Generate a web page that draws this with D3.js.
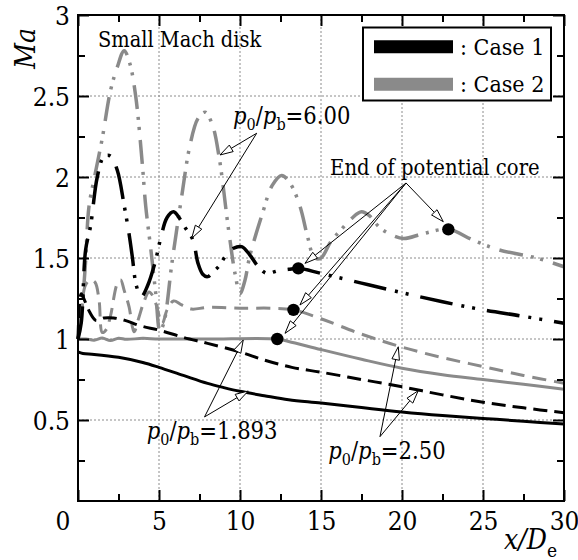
<!DOCTYPE html>
<html>
<head>
<meta charset="utf-8">
<script src="https://cdn.jsdelivr.net/npm/d3@7"></script>
<style>
  body { margin: 0; background: #fff; }
  svg text { font-stretch: condensed; }
</style>
</head>
<body>
<div id="chart"></div>
<script>
/* Mach number along jet axis, Case 1 (black) vs Case 2 (gray) */

var xTicks = [0, 5, 10, 15, 20, 25, 30];
var xMinor = [2.5, 7.5, 12.5, 17.5, 22.5, 27.5];
var yTicks = [0.5, 1, 1.5, 2, 2.5, 3];
var yMinor = [0.25, 0.75, 1.25, 1.75, 2.25, 2.75];

// p0/pb = 1.893
var case1_1893 = [[0,0.92],[0.3,0.91],[1,0.905],[2.5,0.887],[4,0.855],[5,0.825],[6.5,0.775],[8,0.726],[9,0.70],[10,0.677],[11.5,0.65],[13,0.625],[15,0.605],[17.5,0.577],[20,0.55],[22.5,0.528],[25,0.51],[27.5,0.492],[30,0.475]];
var case2_1893 = [[0,1.0],[0.5,1.0],[1,0.993],[1.5,1.006],[2,0.99],[2.5,1.005],[3,0.998],[4,1.004],[5,1.0],[8,1.0],[12.3,1.0],[13,0.985],[15,0.935],[17.5,0.875],[20,0.82],[22.5,0.78],[25,0.75],[27.5,0.72],[30,0.69]];

// p0/pb = 2.50
var case1_250 = [[0,1.0],[0.2,1.28],[0.4,1.24],[0.7,1.17],[1.1,1.115],[1.6,1.13],[2.2,1.13],[2.9,1.115],[3.9,1.08],[5,1.055],[6.5,1.01],[8,0.973],[10,0.92],[11.5,0.87],[13.2,0.825],[15,0.795],[17.5,0.75],[20,0.705],[22.5,0.655],[25,0.61],[27.5,0.575],[30,0.545]];
var case2_250 = [[0,1.0],[0.2,1.15],[0.45,1.33],[0.75,1.365],[1.05,1.35],[1.3,1.24],[1.5,1.04],[1.75,1.06],[2.0,1.14],[2.43,1.344],[2.63,1.365],[2.85,1.3],[3.15,1.2],[3.46,1.045],[3.75,1.13],[4.07,1.23],[4.38,1.29],[4.6,1.27],[4.8,1.22],[5.2,1.097],[5.5,1.18],[5.9,1.235],[6.4,1.21],[7,1.185],[8,1.195],[10,1.19],[12,1.19],[13.3,1.18],[15,1.125],[17.5,1.03],[20,0.95],[22.5,0.885],[25,0.83],[27.5,0.775],[30,0.727]];

// p0/pb = 6.00
var case1_600 = [[0,1.0],[0.2,1.1],[0.47,1.55],[0.78,1.70],[1.19,2.0],[1.6,2.125],[2.0,2.13],[2.43,2.04],[2.84,1.83],[3.15,1.65],[3.35,1.51],[3.6,1.33],[3.9,1.26],[4.3,1.33],[4.75,1.47],[5.1,1.62],[5.5,1.75],[5.9,1.785],[6.3,1.74],[6.6,1.69],[7.1,1.61],[7.4,1.47],[7.7,1.40],[8.0,1.385],[8.4,1.42],[8.7,1.45],[9.1,1.51],[9.6,1.56],[10.1,1.57],[10.6,1.52],[11.1,1.45],[11.65,1.405],[12.3,1.42],[13.0,1.43],[13.6,1.436],[15,1.405],[17.5,1.345],[20,1.286],[22.5,1.23],[25,1.18],[27.5,1.14],[30,1.097]];
var case2_600 = [[0,1.0],[0.25,1.2],[0.45,1.45],[0.68,1.82],[1.0,1.99],[1.5,2.24],[2.0,2.53],[2.43,2.68],[2.85,2.78],[3.2,2.70],[3.56,2.50],[3.97,2.08],[4.18,1.82],[4.5,1.55],[4.8,1.28],[5.06,1.05],[5.3,1.1],[5.8,1.47],[6.4,1.88],[6.9,2.19],[7.4,2.36],[7.85,2.40],[8.3,2.32],[8.7,2.13],[9.3,1.67],[9.7,1.40],[10.0,1.28],[10.3,1.36],[10.6,1.51],[11.4,1.78],[12.0,1.95],[12.57,2.01],[13.1,1.96],[13.7,1.82],[14.2,1.62],[14.6,1.50],[15.0,1.50],[15.6,1.60],[16.2,1.67],[16.9,1.745],[17.5,1.785],[18.0,1.76],[18.6,1.69],[19.3,1.645],[20.1,1.62],[21.3,1.65],[22.86,1.677],[24.4,1.61],[26,1.55],[28.3,1.50],[30,1.446]];

// end of potential core
var coreEnds = [[12.3,1.0],[13.3,1.18],[13.6,1.436],[22.86,1.677]];

// annotation arrows: [from, to] in data units
var arrows600 = [[[11.03,2.27],[8.77,2.136]], [[11.03,2.27],[7.02,1.622]]];
var arrowsCore = [[[20.25,1.963],[22.55,1.724]], [[20.25,1.963],[14.01,1.467]], [[20.25,1.963],[13.70,1.21]], [[20.25,1.963],[12.78,1.035]]];
var arrows1893 = [[[7.81,0.519],[10.2,0.994]], [[7.81,0.519],[10.51,0.679]]];
var arrows250 = [[[18.64,0.397],[19.77,0.952]], [[18.64,0.397],[21.0,0.681]]];

var GRAY = "#8a8a8a";
var SERIF = "'DejaVu Serif Condensed', 'DejaVu Serif', serif";

var margin = {top: 15, right: 14, bottom: 59, left: 78},
	width = 578 - margin.left - margin.right,
	height = 560 - margin.top - margin.bottom;

var svg = d3.select("#chart")
	.append("svg")
	.attr("width", 578)
	.attr("height", 560)
	.attr("font-family", SERIF)
	.style("font-family", SERIF);

var g = svg.append("g")
	.attr("transform", "translate(" + margin.left + "," + margin.top + ")");

var x = d3.scaleLinear().domain([0, 30]).range([0, width]);
var y = d3.scaleLinear().domain([0, 3]).range([height, 0]);

/* grid */
g.selectAll(".vgrid")
	.data(xTicks.slice(1, -1))
	.enter().append("line")
	.attr("x1", function(d) { return x(d); })
	.attr("x2", function(d) { return x(d); })
	.attr("y1", 0).attr("y2", height)
	.style("stroke", "#8c8c8c").style("stroke-width", 1)
	.style("stroke-dasharray", "2,2");

g.selectAll(".hgrid")
	.data(yTicks.slice(0, -1))
	.enter().append("line")
	.attr("y1", function(d) { return y(d); })
	.attr("y2", function(d) { return y(d); })
	.attr("x1", 0).attr("x2", width)
	.style("stroke", "#8c8c8c").style("stroke-width", 1)
	.style("stroke-dasharray", "2,2");

/* curves */
var line = d3.line()
	.x(function(d) { return x(d[0]); })
	.y(function(d) { return y(d[1]); })
	.curve(d3.curveCatmullRom.alpha(0.5));

var series = [
	{data: case2_600, color: GRAY, w: 3.5, dash: "24,8,3,7,3,10"},
	{data: case2_250, color: GRAY, w: 3, dash: "14,8"},
	{data: case2_1893, color: GRAY, w: 3, dash: null},
	{data: case1_600, color: "#000", w: 3.5, dash: "33,9,3,8,3,12"},
	{data: case1_250, color: "#000", w: 3, dash: "14,7"},
	{data: case1_1893, color: "#000", w: 3, dash: null}
];

g.selectAll(".curve")
	.data(series)
	.enter().append("path")
	.attr("class", "curve")
	.attr("d", function(d) { return line(d.data); })
	.style("fill", "none")
	.style("stroke", function(d) { return d.color; })
	.style("stroke-width", function(d) { return d.w; })
	.style("stroke-dasharray", function(d) { return d.dash; });

g.selectAll(".core")
	.data(coreEnds)
	.enter().append("circle")
	.attr("cx", function(d) { return x(d[0]); })
	.attr("cy", function(d) { return y(d[1]); })
	.attr("r", 6.2)
	.style("fill", "#000");

/* arrows with open heads */
function drawArrows(list) {
	list.forEach(function(a) {
		var x0 = x(a[0][0]), y0 = y(a[0][1]), x1 = x(a[1][0]), y1 = y(a[1][1]);
		var dx = x1 - x0, dy = y1 - y0, len = Math.sqrt(dx * dx + dy * dy);
		var ux = dx / len, uy = dy / len;
		var hl = 13, hw = 3.8;
		var bx = x1 - ux * hl, by = y1 - uy * hl;
		g.append("line")
			.attr("x1", x0).attr("y1", y0).attr("x2", bx).attr("y2", by)
			.style("stroke", "#000").style("stroke-width", 1);
		g.append("polygon")
			.attr("points", [[x1, y1], [bx - uy * hw, by + ux * hw], [bx + uy * hw, by - ux * hw]].join(" "))
			.style("fill", "#fff").style("stroke", "#000").style("stroke-width", 1);
	});
}
drawArrows(arrows600);
drawArrows(arrowsCore);
drawArrows(arrows1893);
drawArrows(arrows250);

/* annotation texts */
function pLabel(px, py, value) {
	var t = g.append("text")
		.attr("x", x(px)).attr("y", y(py))
		.style("font-family", SERIF)
		.style("font-size", "23.5px");
	t.append("tspan").style("font-style", "italic").text("p");
	t.append("tspan").attr("dy", 6).style("font-size", "16px").text("0");
	t.append("tspan").attr("dy", -6).text("/");
	t.append("tspan").style("font-style", "italic").text("p");
	t.append("tspan").attr("dy", 6).style("font-size", "16px").text("b");
	t.append("tspan").attr("dy", -6).text("=" + value);
}
pLabel(9.57, 2.33, "6.00");
pLabel(4.24, 0.383, "1.893");
pLabel(15.45, 0.259, "2.50");

g.append("text")
	.attr("x", x(1.23)).attr("y", y(2.804))
	.style("font-family", SERIF)
	.style("font-size", "21.6px")
	.text("Small Mach disk");

g.append("text")
	.attr("x", x(15.56)).attr("y", y(2.01))
	.style("font-family", SERIF)
	.style("font-size", "21.8px")
	.text("End of potential core");

/* axes: ticks inward on all four sides */
function styleAxis(sel) {
	sel.attr("font-family", SERIF);
	sel.select(".domain").remove();
	sel.selectAll(".tick line").style("stroke", "#000").style("stroke-width", 2);
	sel.selectAll(".tick text").style("font-size", "26px").style("font-family", SERIF);
}

var xAxis = g.append("g")
	.attr("transform", "translate(0," + height + ")")
	.call(d3.axisBottom(x).tickValues(xTicks).tickSize(-11).tickPadding(10).tickFormat(d3.format("d")))
	.call(styleAxis);
xAxis.selectAll(".tick text").attr("y", 29).attr("dy", null);
xAxis.selectAll(".tick text").filter(function(d) { return d === 0; }).attr("x", -15.5);

g.append("g")
	.attr("transform", "translate(0," + height + ")")
	.call(d3.axisBottom(x).tickValues(xMinor).tickSize(-7).tickFormat(""))
	.call(styleAxis);

g.append("g")
	.call(d3.axisTop(x).tickValues(xTicks).tickSize(-11).tickFormat(""))
	.call(styleAxis);
g.append("g")
	.call(d3.axisTop(x).tickValues(xMinor).tickSize(-7).tickFormat(""))
	.call(styleAxis);

var yAxis = g.append("g")
	.call(d3.axisLeft(y).tickValues(yTicks).tickSize(-11).tickPadding(8).tickFormat(function(d) { return String(d); }))
	.call(styleAxis);
yAxis.selectAll(".tick text").attr("dy", "0.36em");

g.append("g")
	.call(d3.axisLeft(y).tickValues(yMinor).tickSize(-7).tickFormat(""))
	.call(styleAxis);

g.append("g")
	.attr("transform", "translate(" + width + ",0)")
	.call(d3.axisRight(y).tickValues(yTicks).tickSize(-11).tickFormat(""))
	.call(styleAxis);
g.append("g")
	.attr("transform", "translate(" + width + ",0)")
	.call(d3.axisRight(y).tickValues(yMinor).tickSize(-7).tickFormat(""))
	.call(styleAxis);

/* frame */
g.append("rect")
	.attr("x", 0).attr("y", 0)
	.attr("width", width).attr("height", height)
	.style("fill", "none").style("stroke", "#000").style("stroke-width", 2);

/* legend */
var legend = svg.append("g");
legend.append("rect")
	.attr("x", 363).attr("y", 27.5)
	.attr("width", 188).attr("height", 73)
	.style("fill", "#fff").style("stroke", "#000").style("stroke-width", 2);

var legendItems = [{label: ": Case 1", color: "#000"}, {label: ": Case 2", color: GRAY}];
legend.selectAll(".lgline")
	.data(legendItems)
	.enter().append("line")
	.attr("x1", 374).attr("x2", 453)
	.attr("y1", function(d, i) { return 46.7 + i * 37.6; })
	.attr("y2", function(d, i) { return 46.7 + i * 37.6; })
	.style("stroke", function(d) { return d.color; })
	.style("stroke-width", 13);
legend.selectAll(".lgtext")
	.data(legendItems)
	.enter().append("text")
	.attr("x", 460)
	.attr("y", function(d, i) { return 54.5 + i * 37.6; })
	.style("font-family", SERIF)
	.style("font-size", "23px")
	.text(function(d) { return d.label; });

/* axis titles */
svg.append("text")
	.attr("transform", "translate(35,28) rotate(-90)")
	.style("text-anchor", "end")
	.style("font-family", SERIF)
	.style("font-size", "28px")
	.style("font-style", "italic")
	.text("Ma");

var xt = svg.append("text")
	.attr("x", 557).attr("y", 549)
	.style("text-anchor", "end")
	.style("font-family", SERIF)
	.style("font-size", "28px");
xt.append("tspan").style("font-style", "italic").text("x/D");
xt.append("tspan").attr("dy", 8).style("font-size", "19px").text("e");
</script>
</body>
</html>
